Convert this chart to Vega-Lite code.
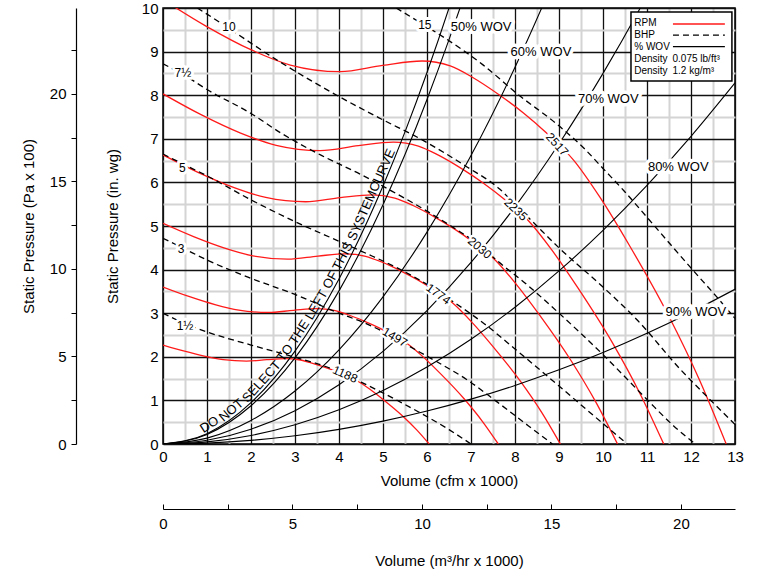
{
 "$schema":"https://vega.github.io/schema/vega-lite/v6.json",
 "width":572,"height":436,
 "autosize":{"type":"none"},
 "padding":{"left":163,"top":8,"right":22,"bottom":134},
 "config":{
   "view":{"stroke":"black","strokeWidth":1.5},
   "font":"Liberation Sans",
   "axis":{"labelFont":"Liberation Sans","titleFont":"Liberation Sans","labelFontSize":15,"titleFontSize":15,"titleFontWeight":"normal","labelColor":"black","titleColor":"black","domainColor":"black","tickColor":"black","labelFlush":false,"labelOverlap":false},
   "text":{"font":"Liberation Sans"}
 },
 "datasets":{
  "rpm":[
   {"n":"1188","q":0,"p":2.27},{"n":"1188","q":0.466,"p":2.134},{"n":"1188","q":0.938,"p":2.016},{"n":"1188","q":1.367,"p":1.936},{"n":"1188","q":1.9,"p":1.902},{"n":"1188","q":2.36,"p":1.934},{"n":"1188","q":2.783,"p":1.957},{"n":"1188","q":3.086,"p":1.932},{"n":"1188","q":3.328,"p":1.873},{"n":"1188","q":3.618,"p":1.782},{"n":"1188","q":3.872,"p":1.691},{"n":"1188","q":4.12,"p":1.589},{"n":"1188","q":4.41,"p":1.451},{"n":"1188","q":4.695,"p":1.26},{"n":"1188","q":5.015,"p":1.01},{"n":"1188","q":5.433,"p":0.654},{"n":"1188","q":5.766,"p":0.325},{"n":"1188","q":6.05,"p":0},
   {"n":"1497","q":0,"p":3.6},{"n":"1497","q":0.587,"p":3.384},{"n":"1497","q":1.181,"p":3.197},{"n":"1497","q":1.722,"p":3.071},{"n":"1497","q":2.393,"p":3.017},{"n":"1497","q":2.972,"p":3.067},{"n":"1497","q":3.505,"p":3.103},{"n":"1497","q":3.886,"p":3.064},{"n":"1497","q":4.191,"p":2.97},{"n":"1497","q":4.557,"p":2.826},{"n":"1497","q":4.877,"p":2.682},{"n":"1497","q":5.189,"p":2.52},{"n":"1497","q":5.555,"p":2.3},{"n":"1497","q":5.913,"p":1.998},{"n":"1497","q":6.317,"p":1.602},{"n":"1497","q":6.843,"p":1.037},{"n":"1497","q":7.262,"p":0.515},{"n":"1497","q":7.62,"p":0},
   {"n":"1774","q":0,"p":5.06},{"n":"1774","q":0.695,"p":4.756},{"n":"1774","q":1.4,"p":4.493},{"n":"1774","q":2.041,"p":4.316},{"n":"1774","q":2.835,"p":4.24},{"n":"1774","q":3.522,"p":4.311},{"n":"1774","q":4.154,"p":4.362},{"n":"1774","q":4.605,"p":4.306},{"n":"1774","q":4.967,"p":4.175},{"n":"1774","q":5.4,"p":3.972},{"n":"1774","q":5.779,"p":3.77},{"n":"1774","q":6.149,"p":3.542},{"n":"1774","q":6.583,"p":3.233},{"n":"1774","q":7.007,"p":2.808},{"n":"1774","q":7.486,"p":2.252},{"n":"1774","q":8.109,"p":1.457},{"n":"1774","q":8.606,"p":0.724},{"n":"1774","q":9.03,"p":0},
   {"n":"2030","q":0,"p":6.63},{"n":"2030","q":0.795,"p":6.232},{"n":"2030","q":1.601,"p":5.887},{"n":"2030","q":2.335,"p":5.655},{"n":"2030","q":3.244,"p":5.556},{"n":"2030","q":4.029,"p":5.649},{"n":"2030","q":4.752,"p":5.715},{"n":"2030","q":5.268,"p":5.642},{"n":"2030","q":5.682,"p":5.47},{"n":"2030","q":6.177,"p":5.205},{"n":"2030","q":6.611,"p":4.939},{"n":"2030","q":7.035,"p":4.641},{"n":"2030","q":7.531,"p":4.237},{"n":"2030","q":8.016,"p":3.68},{"n":"2030","q":8.564,"p":2.95},{"n":"2030","q":9.276,"p":1.909},{"n":"2030","q":9.844,"p":0.948},{"n":"2030","q":10.33,"p":0},
   {"n":"2235","q":0,"p":8.03},{"n":"2235","q":0.876,"p":7.548},{"n":"2235","q":1.764,"p":7.131},{"n":"2235","q":2.572,"p":6.85},{"n":"2235","q":3.573,"p":6.729},{"n":"2235","q":4.438,"p":6.842},{"n":"2235","q":5.235,"p":6.922},{"n":"2235","q":5.804,"p":6.834},{"n":"2235","q":6.259,"p":6.625},{"n":"2235","q":6.805,"p":6.304},{"n":"2235","q":7.283,"p":5.982},{"n":"2235","q":7.75,"p":5.621},{"n":"2235","q":8.296,"p":5.131},{"n":"2235","q":8.831,"p":4.457},{"n":"2235","q":9.434,"p":3.573},{"n":"2235","q":10.219,"p":2.313},{"n":"2235","q":10.845,"p":1.148},{"n":"2235","q":11.38,"p":0},
   {"n":"2517","q":0,"p":10.19},{"n":"2517","q":0.986,"p":9.579},{"n":"2517","q":1.984,"p":9.049},{"n":"2517","q":2.893,"p":8.692},{"n":"2517","q":4.019,"p":8.539},{"n":"2517","q":4.992,"p":8.682},{"n":"2517","q":5.888,"p":8.784},{"n":"2517","q":6.528,"p":8.672},{"n":"2517","q":7.04,"p":8.407},{"n":"2517","q":7.654,"p":7.999},{"n":"2517","q":8.192,"p":7.592},{"n":"2517","q":8.717,"p":7.133},{"n":"2517","q":9.331,"p":6.511},{"n":"2517","q":9.933,"p":5.655},{"n":"2517","q":10.611,"p":4.535},{"n":"2517","q":11.494,"p":2.935},{"n":"2517","q":12.198,"p":1.457},{"n":"2517","q":12.8,"p":0}
  ],
  "bhp":[
   {"h":"1.5","q":0,"p":3.0},{"h":"1.5","q":0.5,"p":2.76},{"h":"1.5","q":1.0,"p":2.57},{"h":"1.5","q":2.0,"p":2.27},{"h":"1.5","q":3.0,"p":1.99},{"h":"1.5","q":3.85,"p":1.72},{"h":"1.5","q":4.5,"p":1.42},{"h":"1.5","q":5.0,"p":1.17},{"h":"1.5","q":5.8,"p":0.74},{"h":"1.5","q":6.5,"p":0.33},{"h":"1.5","q":7.0,"p":0},
   {"h":"3","q":0,"p":4.72},{"h":"3","q":0.5,"p":4.47},{"h":"3","q":1.0,"p":4.22},{"h":"3","q":2.0,"p":3.8},{"h":"3","q":3.0,"p":3.43},{"h":"3","q":4.0,"p":3.0},{"h":"3","q":4.6,"p":2.77},{"h":"3","q":5.2,"p":2.47},{"h":"3","q":5.6,"p":2.24},{"h":"3","q":6.2,"p":1.9},{"h":"3","q":6.9,"p":1.48},{"h":"3","q":7.6,"p":0.96},{"h":"3","q":8.3,"p":0.42},{"h":"3","q":8.85,"p":0},
   {"h":"5","q":0,"p":6.65},{"h":"5","q":0.5,"p":6.4},{"h":"5","q":1.0,"p":6.15},{"h":"5","q":2.0,"p":5.6},{"h":"5","q":3.0,"p":5.1},{"h":"5","q":4.0,"p":4.65},{"h":"5","q":4.6,"p":4.38},{"h":"5","q":5.3,"p":4.05},{"h":"5","q":6.0,"p":3.66},{"h":"5","q":6.6,"p":3.26},{"h":"5","q":7.3,"p":2.76},{"h":"5","q":8.0,"p":2.18},{"h":"5","q":9.0,"p":1.33},{"h":"5","q":9.8,"p":0.64},{"h":"5","q":10.55,"p":0},
   {"h":"7.5","q":0,"p":8.72},{"h":"7.5","q":0.5,"p":8.45},{"h":"7.5","q":1.0,"p":8.13},{"h":"7.5","q":2.0,"p":7.58},{"h":"7.5","q":2.7,"p":7.12},{"h":"7.5","q":3.6,"p":6.62},{"h":"7.5","q":4.5,"p":6.18},{"h":"7.5","q":5.2,"p":5.8},{"h":"7.5","q":5.85,"p":5.43},{"h":"7.5","q":6.45,"p":5.06},{"h":"7.5","q":7.2,"p":4.55},{"h":"7.5","q":7.6,"p":4.2},{"h":"7.5","q":8.3,"p":3.63},{"h":"7.5","q":9.0,"p":3.0},{"h":"7.5","q":10.0,"p":2.05},{"h":"7.5","q":11.0,"p":1.02},{"h":"7.5","q":11.6,"p":0.42},{"h":"7.5","q":12.1,"p":0},
   {"h":"10","q":0.78,"p":10.0},{"h":"10","q":1.0,"p":9.86},{"h":"10","q":1.5,"p":9.53},{"h":"10","q":2.6,"p":8.8},{"h":"10","q":4.0,"p":7.97},{"h":"10","q":4.95,"p":7.46},{"h":"10","q":5.9,"p":6.97},{"h":"10","q":6.9,"p":6.36},{"h":"10","q":7.65,"p":5.85},{"h":"10","q":8.0,"p":5.5},{"h":"10","q":8.4,"p":5.1},{"h":"10","q":9.0,"p":4.5},{"h":"10","q":10.0,"p":3.6},{"h":"10","q":10.8,"p":2.82},{"h":"10","q":11.75,"p":1.72},{"h":"10","q":12.4,"p":1.05},{"h":"10","q":13.0,"p":0.45},
   {"h":"15","q":5.3,"p":10.0},{"h":"15","q":5.95,"p":9.6},{"h":"15","q":6.3,"p":9.38},{"h":"15","q":7.28,"p":8.69},{"h":"15","q":8.04,"p":8.04},{"h":"15","q":9.02,"p":7.28},{"h":"15","q":9.6,"p":6.75},{"h":"15","q":10.0,"p":6.32},{"h":"15","q":10.5,"p":5.78},{"h":"15","q":11.0,"p":5.2},{"h":"15","q":11.6,"p":4.5},{"h":"15","q":12.05,"p":3.98},{"h":"15","q":12.58,"p":3.38},{"h":"15","q":13.0,"p":2.88}
  ],
  "wov":[
   {"w":"sys","q":0,"p":0},{"w":"sys","q":1,"p":0.237},{"w":"sys","q":2,"p":0.947},{"w":"sys","q":3,"p":2.13},{"w":"sys","q":4,"p":3.787},{"w":"sys","q":5,"p":5.918},{"w":"sys","q":5.5,"p":7.16},{"w":"sys","q":6,"p":8.521},{"w":"sys","q":6.5,"p":10.0},{"w":"sys","q":6.6,"p":10.31},
   {"w":"50","q":0,"p":0},{"w":"50","q":1,"p":0.22},{"w":"50","q":2,"p":0.878},{"w":"50","q":3,"p":1.976},{"w":"50","q":4,"p":3.512},{"w":"50","q":5,"p":5.488},{"w":"50","q":5.5,"p":6.64},{"w":"50","q":6,"p":7.902},{"w":"50","q":6.5,"p":9.274},{"w":"50","q":6.75,"p":10.0},{"w":"50","q":6.9,"p":10.45},
   {"w":"60","q":0,"p":0},{"w":"60","q":1,"p":0.135},{"w":"60","q":2,"p":0.54},{"w":"60","q":3,"p":1.215},{"w":"60","q":4,"p":2.16},{"w":"60","q":5,"p":3.375},{"w":"60","q":6,"p":4.86},{"w":"60","q":7,"p":6.615},{"w":"60","q":8,"p":8.64},{"w":"60","q":8.61,"p":10.008},{"w":"60","q":8.8,"p":10.45},
   {"w":"70","q":0,"p":0},{"w":"70","q":1,"p":0.085},{"w":"70","q":2,"p":0.34},{"w":"70","q":3,"p":0.765},{"w":"70","q":4,"p":1.36},{"w":"70","q":5,"p":2.125},{"w":"70","q":6,"p":3.06},{"w":"70","q":7,"p":4.165},{"w":"70","q":8,"p":5.44},{"w":"70","q":9,"p":6.885},{"w":"70","q":10,"p":8.5},{"w":"70","q":10.85,"p":10.006},{"w":"70","q":11,"p":10.285},
   {"w":"80","q":0,"p":0},{"w":"80","q":1,"p":0.049},{"w":"80","q":2,"p":0.196},{"w":"80","q":3,"p":0.441},{"w":"80","q":4,"p":0.784},{"w":"80","q":5,"p":1.225},{"w":"80","q":6,"p":1.764},{"w":"80","q":7,"p":2.401},{"w":"80","q":8,"p":3.136},{"w":"80","q":9,"p":3.969},{"w":"80","q":10,"p":4.9},{"w":"80","q":11,"p":5.929},{"w":"80","q":12,"p":7.056},{"w":"80","q":13,"p":8.281},
   {"w":"90","q":0,"p":0},{"w":"90","q":1,"p":0.021},{"w":"90","q":2,"p":0.084},{"w":"90","q":3,"p":0.189},{"w":"90","q":4,"p":0.336},{"w":"90","q":5,"p":0.525},{"w":"90","q":6,"p":0.756},{"w":"90","q":7,"p":1.029},{"w":"90","q":8,"p":1.344},{"w":"90","q":9,"p":1.701},{"w":"90","q":10,"p":2.1},{"w":"90","q":11,"p":2.541},{"w":"90","q":12,"p":3.024},{"w":"90","q":13,"p":3.549}
  ]
 },
 "layer":[
  {
   "encoding":{
    "x":{"field":"q","type":"quantitative","scale":{"domain":[0,13],"nice":false,"zero":false},"axis":null},
    "y":{"field":"p","type":"quantitative","scale":{"domain":[0,10],"nice":false,"zero":false},"axis":null}
   },
   "layer":[
    {"data":{"name":"rpm"},
     "mark":{"type":"line","color":"#ff1a1a","strokeWidth":1.3,"interpolate":"monotone","clip":true},
     "encoding":{
      "x":{"field":"q","type":"quantitative","scale":{"domain":[0,13],"nice":false,"zero":false},
           "axis":{"orient":"bottom","values":[0.5,1.5,2.5,3.5,4.5,5.5,6.5,7.5,8.5,9.5,10.5,11.5,12.5],"grid":true,"gridColor":"#d4d4d4","gridWidth":2,"labels":false,"ticks":false,"domain":false,"title":null}},
      "y":{"field":"p","type":"quantitative","scale":{"domain":[0,10],"nice":false,"zero":false},
           "axis":{"orient":"left","values":[0.5,1.5,2.5,3.5,4.5,5.5,6.5,7.5,8.5,9.5],"grid":true,"gridColor":"#d4d4d4","gridWidth":2,"labels":false,"ticks":false,"domain":false,"title":null}},
      "detail":{"field":"n"}
     }},
    {"data":{"name":"bhp"},
     "mark":{"type":"line","color":"black","strokeWidth":1.3,"strokeDash":[6,4],"interpolate":"monotone","clip":true},
     "encoding":{
      "x":{"field":"q","type":"quantitative","scale":{"domain":[0,13],"nice":false,"zero":false},
           "axis":{"orient":"bottom","values":[0,1,2,3,4,5,6,7,8,9,10,11,12,13],"grid":true,"gridColor":"#111111","gridWidth":1.3,"ticks":false,"domain":false,"labelPadding":5,"title":"Volume (cfm x 1000)","titlePadding":9}},
      "y":{"field":"p","type":"quantitative","scale":{"domain":[0,10],"nice":false,"zero":false},
           "axis":{"orient":"left","values":[0,1,2,3,4,5,6,7,8,9,10],"grid":true,"gridColor":"#111111","gridWidth":1.3,"ticks":false,"domain":false,"labelPadding":5,"title":"Static Pressure (in. wg)","titlePadding":21}},
      "detail":{"field":"h"}
     }},
    {"data":{"name":"wov"},
     "mark":{"type":"line","color":"black","strokeWidth":1.1,"interpolate":"monotone","clip":true},
     "encoding":{"detail":{"field":"w"}}},
    {"data":{"values":[{"q":10.636,"q2":12.93,"p":9.908,"p2":8.326}]},
     "mark":{"type":"rect","fill":"white","stroke":"black","strokeWidth":1.5},
     "encoding":{"x2":{"field":"q2"},"y2":{"field":"p2"}}},
    {"data":{"values":[{"q":11.59,"p":9.633},{"q":12.77,"p":9.633}]},
     "mark":{"type":"line","color":"#ff1a1a","strokeWidth":1.3},"encoding":{}},
    {"data":{"values":[{"q":11.59,"p":9.38},{"q":12.77,"p":9.38}]},
     "mark":{"type":"line","color":"black","strokeWidth":1.3,"strokeDash":[6,4]},"encoding":{}},
    {"data":{"values":[{"q":11.59,"p":9.112},{"q":12.77,"p":9.112}]},
     "mark":{"type":"line","color":"black","strokeWidth":1.3},"encoding":{}},
    {"data":{"values":[
       {"t":"RPM","q":10.71,"p":9.645},{"t":"BHP","q":10.71,"p":9.38},{"t":"% WOV","q":10.71,"p":9.112},
       {"t":"Density","q":10.71,"p":8.835},{"t":"Density","q":10.71,"p":8.56},
       {"t":"0.075 lb/ft³","q":11.58,"p":8.835},{"t":"1.2 kg/m³","q":11.58,"p":8.56}]},
     "mark":{"type":"text","align":"left","baseline":"middle","fontSize":10,"color":"black"},
     "encoding":{"text":{"field":"t"}}},
    {"data":{"values":[
       {"t":"1½","q":0.5,"p":2.71},{"t":"3","q":0.41,"p":4.47},{"t":"5","q":0.44,"p":6.32},
       {"t":"7½","q":0.45,"p":8.5},{"t":"10","q":1.5,"p":9.57},{"t":"15","q":5.95,"p":9.61}]},
     "encoding":{"text":{"field":"t"}},
     "layer":[
      {"mark":{"type":"text","fontSize":12,"align":"center","baseline":"middle","fill":"white","stroke":"white","strokeWidth":6,"strokeJoin":"round"}},
      {"mark":{"type":"text","fontSize":12,"align":"center","baseline":"middle","fill":"black"}}
     ]},
    {"data":{"values":[
       {"t":"50% WOV","q":7.23,"p":9.56},{"t":"60% WOV","q":8.59,"p":9.0},{"t":"70% WOV","q":10.12,"p":7.92},
       {"t":"80% WOV","q":11.71,"p":6.35},{"t":"90% WOV","q":12.11,"p":3.03}]},
     "encoding":{"text":{"field":"t"}},
     "layer":[
      {"mark":{"type":"text","fontSize":13,"align":"center","baseline":"middle","fill":"white","stroke":"white","strokeWidth":7,"strokeJoin":"round"}},
      {"mark":{"type":"text","fontSize":13,"align":"center","baseline":"middle","fill":"black"}}
     ]},
    {"data":{"values":[{"t":"1188","q":4.14,"p":1.6}]},"encoding":{"text":{"field":"t"}},
     "layer":[
      {"mark":{"type":"text","angle":24,"fontSize":12,"align":"center","baseline":"middle","fill":"white","stroke":"white","strokeWidth":5,"strokeJoin":"round"}},
      {"mark":{"type":"text","angle":24,"fontSize":12,"align":"center","baseline":"middle","fill":"black"}}]},
    {"data":{"values":[{"t":"1497","q":5.27,"p":2.45}]},"encoding":{"text":{"field":"t"}},
     "layer":[
      {"mark":{"type":"text","angle":31,"fontSize":12,"align":"center","baseline":"middle","fill":"white","stroke":"white","strokeWidth":5,"strokeJoin":"round"}},
      {"mark":{"type":"text","angle":31,"fontSize":12,"align":"center","baseline":"middle","fill":"black"}}]},
    {"data":{"values":[{"t":"1774","q":6.26,"p":3.44}]},"encoding":{"text":{"field":"t"}},
     "layer":[
      {"mark":{"type":"text","angle":36,"fontSize":12,"align":"center","baseline":"middle","fill":"white","stroke":"white","strokeWidth":5,"strokeJoin":"round"}},
      {"mark":{"type":"text","angle":36,"fontSize":12,"align":"center","baseline":"middle","fill":"black"}}]},
    {"data":{"values":[{"t":"2030","q":7.2,"p":4.5}]},"encoding":{"text":{"field":"t"}},
     "layer":[
      {"mark":{"type":"text","angle":40,"fontSize":12,"align":"center","baseline":"middle","fill":"white","stroke":"white","strokeWidth":5,"strokeJoin":"round"}},
      {"mark":{"type":"text","angle":40,"fontSize":12,"align":"center","baseline":"middle","fill":"black"}}]},
    {"data":{"values":[{"t":"2235","q":8.02,"p":5.38}]},"encoding":{"text":{"field":"t"}},
     "layer":[
      {"mark":{"type":"text","angle":43,"fontSize":12,"align":"center","baseline":"middle","fill":"white","stroke":"white","strokeWidth":5,"strokeJoin":"round"}},
      {"mark":{"type":"text","angle":43,"fontSize":12,"align":"center","baseline":"middle","fill":"black"}}]},
    {"data":{"values":[{"t":"2517","q":8.96,"p":6.87}]},"encoding":{"text":{"field":"t"}},
     "layer":[
      {"mark":{"type":"text","angle":48,"fontSize":12,"align":"center","baseline":"middle","fill":"white","stroke":"white","strokeWidth":5,"strokeJoin":"round"}},
      {"mark":{"type":"text","angle":48,"fontSize":12,"align":"center","baseline":"middle","fill":"black"}}]},
    {"data":{"values":[{"t":"DO","q":1.142,"p":0.309}]},"mark":{"type":"text","angle":-33,"fontSize":13,"align":"center","baseline":"alphabetic","dy":-3,"fill":"black"},"encoding":{"text":{"field":"t"}}},
    {"data":{"values":[{"t":"NOT","q":1.656,"p":0.649}]},"mark":{"type":"text","angle":-40,"fontSize":13,"align":"center","baseline":"alphabetic","dy":-3,"fill":"black"},"encoding":{"text":{"field":"t"}}},
    {"data":{"values":[{"t":"SELECT","q":2.361,"p":1.319}]},"mark":{"type":"text","angle":-48,"fontSize":13,"align":"center","baseline":"alphabetic","dy":-3,"fill":"black"},"encoding":{"text":{"field":"t"}}},
    {"data":{"values":[{"t":"TO","q":2.904,"p":1.996}]},"mark":{"type":"text","angle":-54,"fontSize":13,"align":"center","baseline":"alphabetic","dy":-3,"fill":"black"},"encoding":{"text":{"field":"t"}}},
    {"data":{"values":[{"t":"THE","q":3.233,"p":2.474}]},"mark":{"type":"text","angle":-57,"fontSize":13,"align":"center","baseline":"alphabetic","dy":-3,"fill":"black"},"encoding":{"text":{"field":"t"}}},
    {"data":{"values":[{"t":"LEFT","q":3.625,"p":3.11}]},"mark":{"type":"text","angle":-60,"fontSize":13,"align":"center","baseline":"alphabetic","dy":-3,"fill":"black"},"encoding":{"text":{"field":"t"}}},
    {"data":{"values":[{"t":"OF","q":3.946,"p":3.686}]},"mark":{"type":"text","angle":-62,"fontSize":13,"align":"center","baseline":"alphabetic","dy":-3,"fill":"black"},"encoding":{"text":{"field":"t"}}},
    {"data":{"values":[{"t":"THIS","q":4.23,"p":4.235}]},"mark":{"type":"text","angle":-63,"fontSize":13,"align":"center","baseline":"alphabetic","dy":-3,"fill":"black"},"encoding":{"text":{"field":"t"}}},
    {"data":{"values":[{"t":"SYSTEMCURVE","q":4.885,"p":5.648}]},"mark":{"type":"text","angle":-66,"fontSize":13,"align":"center","baseline":"alphabetic","dy":-3,"fill":"black"},"encoding":{"text":{"field":"t"}}}
   ],
   "resolve":{"axis":{"x":"independent","y":"independent"}}
  },
  {
   "data":{"values":[{"m3":0,"pa":0},{"m3":22.087,"pa":24.909}]},
   "mark":{"type":"point","opacity":0},
   "encoding":{
    "x":{"field":"m3","type":"quantitative","scale":{"domain":[0,22.087],"nice":false,"zero":false},
         "axis":{"orient":"bottom","offset":65,"values":[0,2.5,5,7.5,10,12.5,15,17.5,20],"labelExpr":"datum.value % 5 === 0 ? datum.label : ''","grid":false,"domain":true,"domainWidth":1.2,"ticks":true,"tickSize":-5,"tickWidth":1,"labelPadding":12,"title":"Volume (m³/hr x 1000)","titlePadding":22}},
    "y":{"field":"pa","type":"quantitative","scale":{"domain":[0,24.909],"nice":false,"zero":false},
         "axis":{"orient":"left","offset":87,"values":[0,2.5,5,7.5,10,12.5,15,17.5,20,22.5],"labelExpr":"datum.value % 5 === 0 ? datum.label : ''","grid":false,"domain":true,"domainWidth":1.2,"ticks":true,"tickSize":5,"tickWidth":1,"labelPadding":5,"title":"Static Pressure (Pa x 100)","titlePadding":13}}
   }
  }
 ],
 "resolve":{"scale":{"x":"independent","y":"independent"}}
}
